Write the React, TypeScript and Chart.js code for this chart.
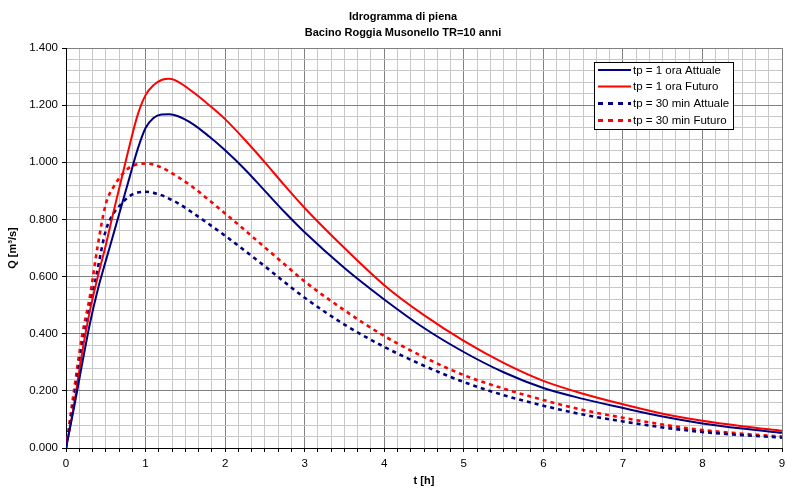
import React, { useEffect, useRef } from 'react';
import { Chart, registerables } from 'chart.js';

Chart.register(...registerables);

// ---- data ----
const tHours = [0, 0.1, 0.2, 0.3, 0.4, 0.5, 0.6, 0.7, 0.8, 0.9, 1.0, 1.1, 1.2, 1.3, 1.4, 1.6, 1.8, 2.0, 2.25, 2.5, 2.75, 3.0, 3.5, 4.0, 4.5, 5.0, 5.5, 6.0, 6.5, 7.0, 7.5, 8.0, 8.5, 9.0];

const qTp1Attuale = [0, 0.14, 0.29, 0.435, 0.555, 0.655, 0.752, 0.85, 0.948, 1.045, 1.12, 1.155, 1.167, 1.168, 1.162, 1.133, 1.09, 1.042, 0.975, 0.9, 0.825, 0.755, 0.63, 0.52, 0.42, 0.336, 0.265, 0.21, 0.172, 0.14, 0.11, 0.086, 0.068, 0.053];
const qTp1Futuro = [0, 0.15, 0.33, 0.48, 0.6, 0.71, 0.83, 0.945, 1.06, 1.165, 1.235, 1.27, 1.288, 1.292, 1.283, 1.245, 1.2, 1.151, 1.078, 1.0, 0.918, 0.84, 0.7, 0.57, 0.465, 0.375, 0.298, 0.235, 0.19, 0.153, 0.12, 0.095, 0.076, 0.06];
const qTp30Attuale = [0, 0.165, 0.35, 0.49, 0.63, 0.761, 0.822, 0.856, 0.882, 0.894, 0.897, 0.893, 0.885, 0.872, 0.858, 0.822, 0.783, 0.743, 0.69, 0.636, 0.58, 0.526, 0.432, 0.354, 0.288, 0.231, 0.185, 0.148, 0.117, 0.093, 0.072, 0.056, 0.045, 0.036];
const qTp30Futuro = [0, 0.2, 0.39, 0.53, 0.71, 0.854, 0.915, 0.955, 0.982, 0.993, 0.996, 0.992, 0.982, 0.967, 0.95, 0.912, 0.867, 0.821, 0.762, 0.702, 0.642, 0.583, 0.482, 0.392, 0.318, 0.255, 0.208, 0.168, 0.133, 0.106, 0.082, 0.063, 0.05, 0.04];

const seriesLabels = ['tp = 1 ora Attuale', 'tp = 1 ora Futuro', 'tp = 30 min Attuale', 'tp = 30 min Futuro'];
const titleLines = ['Idrogramma di piena', 'Bacino Roggia Musonello TR=10 anni'];
const xAxisTitle = 't [h]';
const yAxisTitle = 'Q [m³/s]';
const xTickLabels = ['0', '1', '2', '3', '4', '5', '6', '7', '8', '9'];
const yTickLabels = ['0.000', '0.200', '0.400', '0.600', '0.800', '1.000', '1.200', '1.400'];
const xMinorPerMajor = 6; // 10-minute minor grid
const yMajorStep = 0.2;
const yMinorPerMajor = 5; // 0.04 minor grid

const FONT = "'Liberation Sans', Arial, Helvetica, sans-serif";
const NAVY = '#000080';
const RED = '#ff0000';
const MAJOR_GRID = '#808080';
const MINOR_GRID = '#c8c8c8';

const isNear = (a: number, b: number) => Math.abs(a - b) < 1e-6;

const titlePlugin = {
  id: 'customTitle',
  afterDraw(chart: any) {
    const ctx = chart.ctx;
    ctx.save();
    ctx.fillStyle = '#000';
    ctx.font = `bold 11px ${FONT}`;
    ctx.textAlign = 'center';
    ctx.textBaseline = 'alphabetic';
    ctx.fillText(titleLines[0], 403, 20);
    ctx.fillText(titleLines[1], 403, 36);
    ctx.restore();
  },
};

const legendPlugin = {
  id: 'boxLegend',
  afterDraw(chart: any) {
    const ctx = chart.ctx;
    const x0 = 594.5, y0 = 62.5, w = 139, h = 67;
    ctx.save();
    ctx.fillStyle = '#fff';
    ctx.fillRect(x0, y0, w, h);
    ctx.strokeStyle = '#000';
    ctx.lineWidth = 1;
    ctx.strokeRect(x0, y0, w, h);
    const rows = [70, 86.5, 103.5, 120.5];
    chart.data.datasets.forEach((ds: any, i: number) => {
      const y = rows[i];
      ctx.beginPath();
      ctx.strokeStyle = ds.borderColor;
      ctx.lineWidth = ds.borderDash && ds.borderDash.length ? 3 : 2;
      ctx.setLineDash(ds.borderDash && ds.borderDash.length ? [5, 5] : []);
      ctx.moveTo(598, y);
      ctx.lineTo(631, y);
      ctx.stroke();
      ctx.setLineDash([]);
      ctx.fillStyle = '#000';
      ctx.font = `11.5px ${FONT}`;
      ctx.textAlign = 'left';
      ctx.textBaseline = 'middle';
      ctx.fillText(ds.label, 633, y + 0.5);
    });
    ctx.restore();
  },
};

export default function App() {
  const canvasRef = useRef<HTMLCanvasElement | null>(null);

  useEffect(() => {
    if (!canvasRef.current) return;
    const toPoints = (q: number[]) => tHours.map((t, i) => ({ x: t, y: q[i] }));
    const xTickValues: number[] = [];
    for (let i = 0; i <= (xTickLabels.length - 1) * xMinorPerMajor; i++) xTickValues.push(i / xMinorPerMajor);
    const yTickValues: number[] = [];
    for (let i = 0; i <= (yTickLabels.length - 1) * yMinorPerMajor; i++) yTickValues.push((i * yMajorStep) / yMinorPerMajor);

    const chart = new Chart(canvasRef.current, {
      type: 'line',
      data: {
        datasets: [
          { label: seriesLabels[0], data: toPoints(qTp1Attuale), borderColor: NAVY, borderWidth: 2, borderDash: [], cubicInterpolationMode: 'monotone', pointRadius: 0, fill: false },
          { label: seriesLabels[1], data: toPoints(qTp1Futuro), borderColor: RED, borderWidth: 2, borderDash: [], cubicInterpolationMode: 'monotone', pointRadius: 0, fill: false },
          { label: seriesLabels[2], data: toPoints(qTp30Attuale), borderColor: NAVY, borderWidth: 2.6, borderDash: [4, 4], cubicInterpolationMode: 'monotone', pointRadius: 0, fill: false },
          { label: seriesLabels[3], data: toPoints(qTp30Futuro), borderColor: RED, borderWidth: 2.6, borderDash: [4, 4], cubicInterpolationMode: 'monotone', pointRadius: 0, fill: false },
        ],
      },
      options: {
        responsive: false,
        animation: false,
        layout: { padding: { top: 48, right: 5, left: 0, bottom: 0 } },
        plugins: {
          legend: { display: false },
          title: { display: false },
          tooltip: { enabled: false },
        },
        scales: {
          x: {
            type: 'linear',
            min: 0,
            max: 9,
            afterBuildTicks: (s: any) => { s.ticks = xTickValues.map((v) => ({ value: v })); },
            afterFit: (s: any) => { s.height = 43; s.paddingRight = 0; s.paddingLeft = 0; },
            ticks: {
              autoSkip: false,
              maxRotation: 0,
              padding: 5,
              color: '#000',
              font: { family: FONT, size: 11.5 },
              callback: (v: any) => {
                const n = Number(v);
                const idx = Math.round(n);
                return isNear(n, idx) ? xTickLabels[idx] : '';
              },
            },
            grid: {
              color: (c: any) => (c.tick && isNear(c.tick.value, Math.round(c.tick.value)) ? MAJOR_GRID : MINOR_GRID),
              tickColor: '#000',
              tickLength: 4,
              lineWidth: 1,
            },
            border: { color: '#000', width: 1 },
            title: { display: true, text: xAxisTitle, color: '#000', font: { family: FONT, size: 11, weight: 'bold' }, padding: { top: 0, bottom: 3 } },
          },
          y: {
            type: 'linear',
            min: 0,
            max: 1.4,
            afterBuildTicks: (s: any) => { s.ticks = yTickValues.map((v) => ({ value: v })); },
            afterFit: (s: any) => { s.width = 66; },
            ticks: {
              autoSkip: false,
              padding: 4,
              color: '#000',
              font: { family: FONT, size: 11.5 },
              callback: (v: any) => {
                const n = Number(v) / yMajorStep;
                const idx = Math.round(n);
                return isNear(n, idx) ? yTickLabels[idx] : '';
              },
            },
            grid: {
              color: (c: any) => {
                const n = c.tick ? c.tick.value / yMajorStep : 0.5;
                return isNear(n, Math.round(n)) ? MAJOR_GRID : MINOR_GRID;
              },
              tickColor: (c: any) => {
                const n = c.tick ? c.tick.value / yMajorStep : 0.5;
                return isNear(n, Math.round(n)) ? '#000' : 'rgba(0,0,0,0)';
              },
              tickLength: 4,
              lineWidth: 1,
            },
            border: { color: '#000', width: 1 },
            title: { display: true, text: yAxisTitle, color: '#000', font: { family: FONT, size: 11, weight: 'bold' }, padding: { top: 6, bottom: 0 } },
          },
        },
      } as any,
      plugins: [titlePlugin, legendPlugin],
    });
    return () => chart.destroy();
  }, []);

  return (
    <div style={{ position: 'absolute', left: 0, top: 0, width: 787, height: 491, background: '#fff' }}>
      <canvas ref={canvasRef} width={787} height={491} style={{ display: 'block' }} />
    </div>
  );
}
